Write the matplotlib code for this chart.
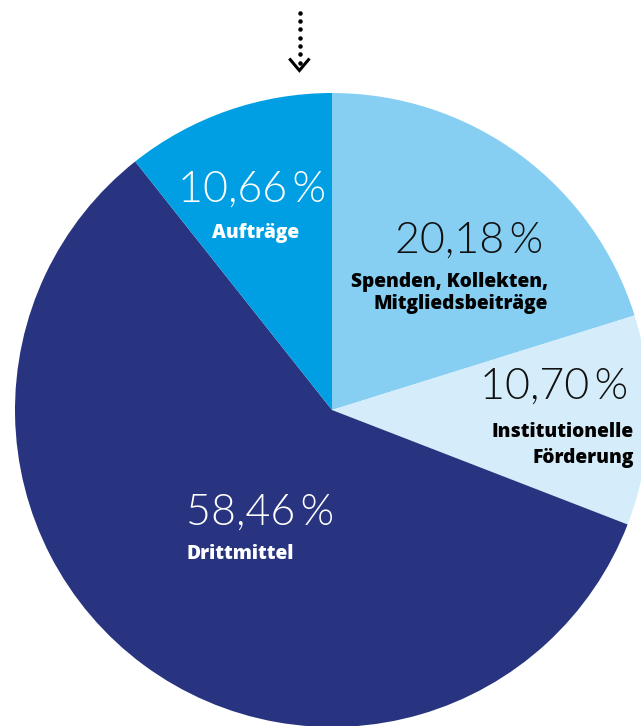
import matplotlib
matplotlib.use("Agg")
import matplotlib.pyplot as plt

categories = ["Spenden, Kollekten,\nMitgliedsbeiträge", "Institutionelle\nFörderung", "Drittmittel", "Aufträge"]
values = [20.18, 10.70, 58.46, 10.66]
pct_labels = ["20,18\u2009%", "10,70\u2009%", "58,46\u2009%", "10,66\u2009%"]
colors = ["#86CFF3", "#D5EDFB", "#283480", "#009FE3"]

W, H = 641, 726
fig = plt.figure(figsize=(W / 100, H / 100), dpi=100)
ax = fig.add_axes([0, 0, 1, 1])
ax.pie(values, colors=colors, startangle=90, counterclock=False,
       center=(332, H - 410), radius=317, frame=True,
       wedgeprops=dict(linewidth=0))
ax.set_xlim(0, W)
ax.set_ylim(0, H)
ax.set_aspect("equal")
ax.axis("off")

thin = dict(family=["Lato", "DejaVu Sans"], fontweight=300, fontsize=31)
bold = dict(family=["Open Sans", "DejaVu Sans"], fontweight=800, fontsize=13.8)

def Y(y):
    return H - y

# percentages
ax.text(543, Y(241), pct_labels[0], ha="right", va="center", color="#111111", **thin)
ax.text(628, Y(387), pct_labels[1], ha="right", va="center", color="#111111", **thin)
ax.text(186, Y(513), pct_labels[2], ha="left", va="center", color="white", **thin)
ax.text(326, Y(190), pct_labels[3], ha="right", va="center", color="white", **thin)

# category labels
ax.text(548, Y(293), categories[0], ha="right", va="center", color="black",
        linespacing=1.2, multialignment="right", **bold)
ax.text(634, Y(445), categories[1], ha="right", va="center", color="black",
        linespacing=1.4, multialignment="right", **bold)
ax.text(186, Y(554), categories[2], ha="left", va="center", color="white", **bold)
ax.text(256, Y(233), categories[3], ha="center", va="center", color="white", **bold)

# dotted arrow
dot_y = [12.7, 21, 29.3, 37.7, 46, 54.3, 62.7]
ax.scatter([299.5] * len(dot_y), [Y(v) for v in dot_y], s=5, color="black", zorder=5)
ax.plot([289.3, 299.4, 309.5], [Y(58.5), Y(70.5), Y(58.5)], color="black", lw=2.2,
        solid_joinstyle="miter", solid_capstyle="butt")

fig.savefig("out.png", dpi=100)
